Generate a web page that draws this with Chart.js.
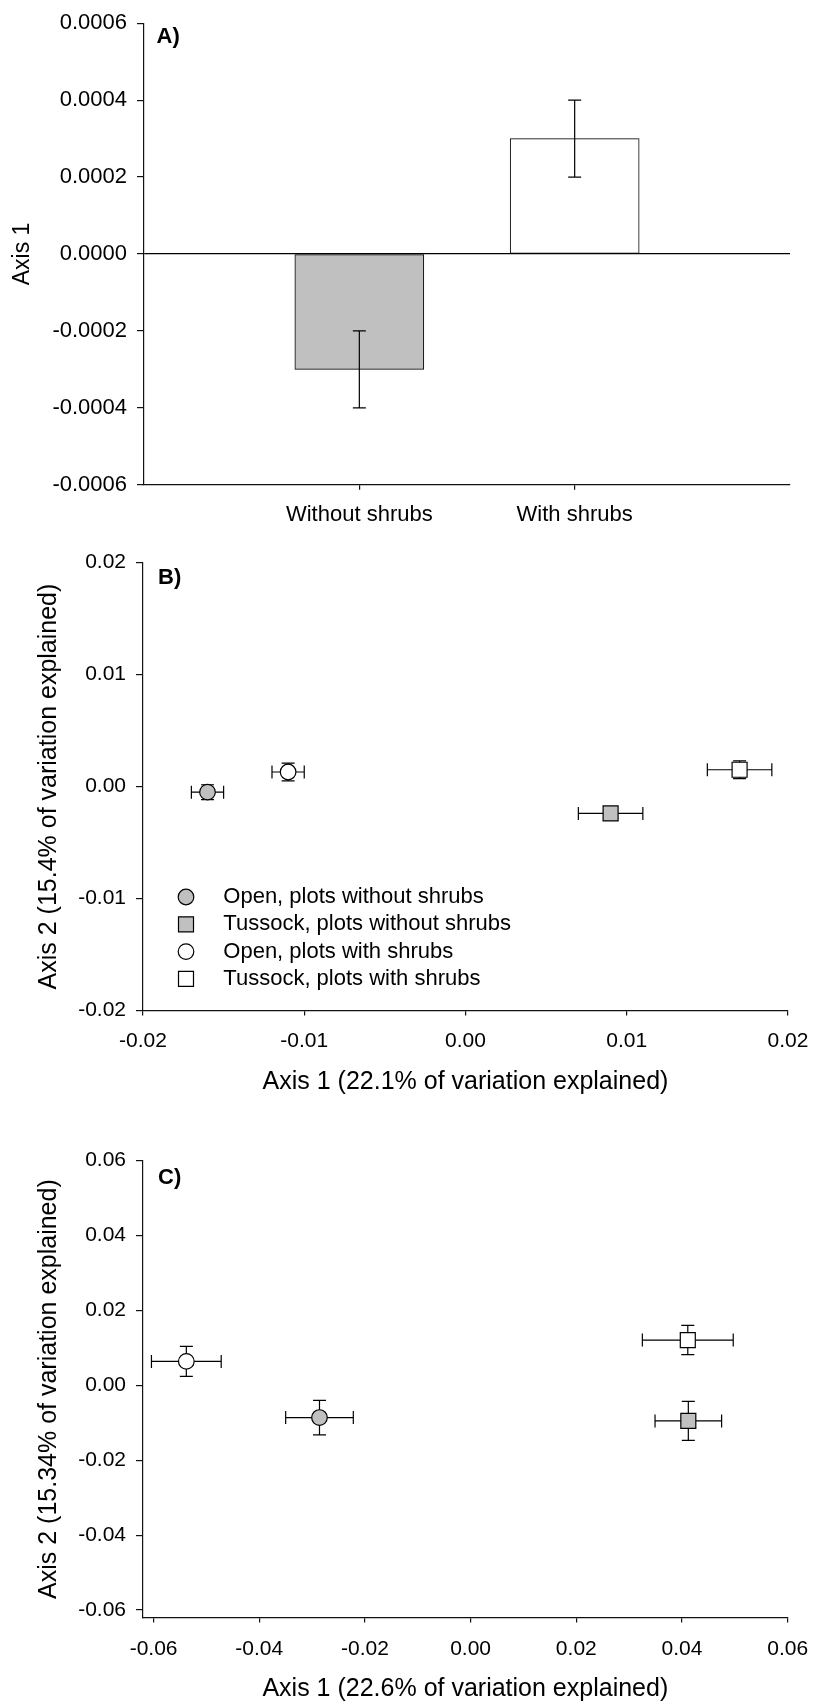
<!DOCTYPE html>
<html>
<head>
<meta charset="utf-8">
<title>Ordination scores</title>
<script src="https://cdn.jsdelivr.net/npm/chart.js@4.4.1/dist/chart.umd.min.js"></script>
<style>
  html, body { margin: 0; padding: 0; background: #fff; }
  #page { position: relative; width: 822px; height: 1706px; }
  #page canvas { position: absolute; left: 0; }
</style>
</head>
<body>
<div id="page">
  <canvas id="chart-a" width="822" height="540" style="top:0"></canvas>
  <canvas id="chart-b" width="822" height="560" style="top:540px"></canvas>
  <canvas id="chart-c" width="822" height="606" style="top:1100px"></canvas>
</div>
<script>
const FONT = '"Liberation Sans", Arial, Helvetica, sans-serif';

// A) axis 1 score by shrub presence
const shrubCategories = ["Without shrubs", "With shrubs"];
const shrubAxis1 = [-0.0003, 0.0003];
const shrubAxis1Se = [0.0001, 0.0001];
const panelATicks = [-0.0006, -0.0004, -0.0002, 0, 0.0002, 0.0004, 0.0006];

// groups shared by B) and C)
const groupLabels = [
  "Open, plots without shrubs",
  "Tussock, plots without shrubs",
  "Open, plots with shrubs",
  "Tussock, plots with shrubs"
];
const groupMarkers = ["circle", "rect", "circle", "rect"];
const groupFills = ["#c0c0c0", "#c0c0c0", "#ffffff", "#ffffff"];

// B)
const panelBX = [-0.016, 0.009, -0.011, 0.017];
const panelBY = [-0.0005, -0.0024, 0.0013, 0.0015];
const panelBXErr = [0.001, 0.002, 0.001, 0.002];
const panelBYErr = [0.00066, 0.0004, 0.0008, 0.0008];
const panelBTicks = [-0.02, -0.01, 0, 0.01, 0.02];

// C)
const panelCX = [-0.0286, 0.0412, -0.0538, 0.0411];
const panelCY = [-0.0086, -0.0095, 0.0064, 0.0121];
const panelCXErr = [0.0064, 0.0063, 0.0066, 0.0086];
const panelCYErr = [0.0046, 0.0052, 0.0040, 0.0039];
const panelCTicks = [-0.06, -0.04, -0.02, 0, 0.02, 0.04, 0.06];

Chart.defaults.font.family = FONT;
Chart.defaults.color = "#000";

function drawErrorBars(chart) {
  const ctx = chart.ctx;
  const xs = chart.scales.x;
  const ys = chart.scales.y;
  const cap = 6.5;
  ctx.save();
  ctx.strokeStyle = "#000";
  ctx.lineWidth = 1.2;
  chart.data.datasets.forEach((ds) => {
    ds.data.forEach((p, i) => {
      const px = xs.getPixelForValue(p.x);
      const py = ys.getPixelForValue(p.y);
      const ex = ds.xErr ? ds.xErr[i] : 0;
      const ey = ds.yErr ? ds.yErr[i] : 0;
      ctx.beginPath();
      if (ex) {
        const l = xs.getPixelForValue(p.x - ex);
        const r = xs.getPixelForValue(p.x + ex);
        ctx.moveTo(l, py); ctx.lineTo(r, py);
        ctx.moveTo(l, py - cap); ctx.lineTo(l, py + cap);
        ctx.moveTo(r, py - cap); ctx.lineTo(r, py + cap);
      }
      if (ey) {
        const t = ys.getPixelForValue(p.y + ey);
        const b = ys.getPixelForValue(p.y - ey);
        ctx.moveTo(px, t); ctx.lineTo(px, b);
        ctx.moveTo(px - cap, t); ctx.lineTo(px + cap, t);
        ctx.moveTo(px - cap, b); ctx.lineTo(px + cap, b);
      }
      ctx.stroke();
    });
  });
  ctx.restore();
}

const errorBarPlugin = {
  id: "errorBars",
  beforeDatasetsDraw(chart, args, opts) { if (!opts.front) drawErrorBars(chart); },
  afterDatasetsDraw(chart, args, opts) { if (opts.front) drawErrorBars(chart); }
};

const panelLabelPlugin = {
  id: "panelLabel",
  afterDraw(chart, args, opts) {
    const ctx = chart.ctx;
    ctx.save();
    ctx.font = "bold 22px " + FONT;
    ctx.fillStyle = "#000";
    ctx.textBaseline = "middle";
    ctx.fillText(opts.text, opts.x, opts.y);
    ctx.restore();
  }
};

function drawMarker(ctx, style, x, y, r, fill) {
  ctx.beginPath();
  if (style === "rect") {
    const h = r * Math.SQRT1_2;
    ctx.rect(x - h, y - h, 2 * h, 2 * h);
  } else {
    ctx.arc(x, y, r, 0, Math.PI * 2);
  }
  ctx.fillStyle = fill;
  ctx.fill();
  ctx.lineWidth = 1.2;
  ctx.strokeStyle = "#000";
  ctx.stroke();
}

const insetLegendPlugin = {
  id: "insetLegend",
  afterDraw(chart, args, opts) {
    if (!opts.display) return;
    const ctx = chart.ctx;
    const area = chart.chartArea;
    ctx.save();
    ctx.font = "22px " + FONT;
    ctx.textBaseline = "middle";
    chart.data.datasets.forEach((ds, i) => {
      const y = area.top + opts.top + i * opts.rowGap;
      drawMarker(ctx, ds.pointStyle, area.left + opts.markerLeft, y, ds.pointRadius, ds.backgroundColor);
      ctx.fillStyle = "#000";
      ctx.fillText(ds.label, area.left + opts.textLeft, y);
    });
    ctx.restore();
  }
};

function valueAxis(cfg) {
  return {
    type: "linear",
    position: cfg.position,
    min: cfg.min,
    max: cfg.max,
    offset: false,
    afterBuildTicks: (s) => { s.ticks = cfg.ticks.map((v) => ({ value: v })); },
    afterFit: (s) => {
      if (cfg.position === "bottom") s.height = cfg.size;
      else s.width = cfg.size;
    },
    border: { display: true, color: "#111", width: 1.2 },
    grid: {
      offset: false,
      drawOnChartArea: !!cfg.zeroLine,
      color: (c) => (cfg.zeroLine && c.tick && Math.abs(c.tick.value) < 1e-12 ? "#000" : "rgba(0,0,0,0)"),
      lineWidth: 1.2,
      tickLength: cfg.tickLength,
      tickColor: "#111",
      tickWidth: 1.2
    },
    ticks: {
      font: { size: cfg.fontSize },
      padding: cfg.padding,
      maxRotation: 0,
      minRotation: 0,
      autoSkip: false,
      callback: cfg.format
    },
    title: cfg.title
      ? { display: true, text: cfg.title, font: { size: cfg.titleSize }, padding: cfg.titlePadding }
      : { display: false }
  };
}

function groupDatasets(xs, ys, xErr, yErr) {
  return groupLabels.map((label, i) => ({
    label: label,
    data: [{ x: xs[i], y: ys[i] }],
    xErr: [xErr[i]],
    yErr: [yErr[i]],
    pointStyle: groupMarkers[i],
    pointRadius: groupMarkers[i] === "rect" ? 10.6 : 7.8,
    pointHoverRadius: groupMarkers[i] === "rect" ? 10.6 : 7.8,
    backgroundColor: groupFills[i],
    borderColor: "#000",
    borderWidth: 1.2
  }));
}

// panel A
new Chart(document.getElementById("chart-a"), {
  type: "bar",
  data: {
    datasets: [{
      data: shrubAxis1.map((v, i) => ({ x: i + 1, y: v })),
      yErr: shrubAxis1Se,
      backgroundColor: ["#c0c0c0", "#ffffff"],
      borderColor: "#000",
      borderWidth: 1,
      borderSkipped: false,
      barThickness: 129
    }]
  },
  options: {
    responsive: false,
    animation: false,
    layout: { padding: { top: 22.3, right: 32, bottom: 0, left: 0 } },
    plugins: {
      legend: { display: false },
      tooltip: { enabled: false },
      errorBars: { front: true },
      panelLabel: { text: "A)", x: 156.5, y: 37 }
    },
    scales: {
      x: valueAxis({
        position: "bottom", min: 0, max: 3, ticks: [1, 2], size: 55.3,
        tickLength: 5, fontSize: 22, padding: 11.8,
        format: (v) => shrubCategories[v - 1]
      }),
      y: valueAxis({
        position: "left", min: -0.0006, max: 0.0006, ticks: panelATicks, size: 144,
        tickLength: 7, fontSize: 22, padding: 10, zeroLine: true,
        format: (v) => v.toFixed(4),
        title: "Axis 1", titleSize: 23, titlePadding: { top: 9, bottom: 0 }
      })
    }
  },
  plugins: [errorBarPlugin, panelLabelPlugin]
});

// panel B
new Chart(document.getElementById("chart-b"), {
  type: "scatter",
  data: { datasets: groupDatasets(panelBX, panelBY, panelBXErr, panelBYErr) },
  options: {
    responsive: false,
    animation: false,
    layout: { padding: { top: 12.9, right: 22, bottom: 0, left: 0 } },
    plugins: {
      legend: { display: false },
      tooltip: { enabled: false },
      errorBars: { front: false },
      panelLabel: { text: "B)", x: 158, y: 37.5 },
      insetLegend: { display: true, top: 334.4, rowGap: 27.3, markerLeft: 43, textLeft: 80.3 }
    },
    scales: {
      x: valueAxis({
        position: "bottom", min: -0.02, max: 0.02, ticks: panelBTicks, size: 89.5,
        tickLength: 5, fontSize: 21, padding: 13.6,
        format: (v) => v.toFixed(2),
        title: "Axis 1 (22.1% of variation explained)", titleSize: 25, titlePadding: { top: 0, bottom: 3.3 }
      }),
      y: valueAxis({
        position: "left", min: -0.02, max: 0.02, ticks: panelBTicks, size: 143,
        tickLength: 7, fontSize: 21, padding: 10,
        format: (v) => v.toFixed(2),
        title: "Axis 2 (15.4% of variation explained)", titleSize: 25, titlePadding: { top: 33.7, bottom: 0 }
      })
    }
  },
  plugins: [errorBarPlugin, panelLabelPlugin, insetLegendPlugin]
});

// panel C
new Chart(document.getElementById("chart-c"), {
  type: "scatter",
  data: { datasets: groupDatasets(panelCX, panelCY, panelCXErr, panelCYErr) },
  options: {
    responsive: false,
    animation: false,
    layout: { padding: { top: 60.7, right: 22, bottom: 0, left: 0 } },
    plugins: {
      legend: { display: false },
      tooltip: { enabled: false },
      errorBars: { front: false },
      panelLabel: { text: "C)", x: 158, y: 78.3 }
    },
    scales: {
      x: valueAxis({
        position: "bottom", min: -0.062, max: 0.06, ticks: panelCTicks, size: 88.5,
        tickLength: 5, fontSize: 21, padding: 13.9,
        format: (v) => v.toFixed(2),
        title: "Axis 1 (22.6% of variation explained)", titleSize: 25, titlePadding: { top: 0, bottom: 1.5 }
      }),
      y: valueAxis({
        position: "left", min: -0.062, max: 0.06, ticks: panelCTicks, size: 143,
        tickLength: 7, fontSize: 21, padding: 10,
        format: (v) => v.toFixed(2),
        title: "Axis 2 (15.34% of variation explained)", titleSize: 25, titlePadding: { top: 33.7, bottom: 0 }
      })
    }
  },
  plugins: [errorBarPlugin, panelLabelPlugin]
});
</script>
</body>
</html>
